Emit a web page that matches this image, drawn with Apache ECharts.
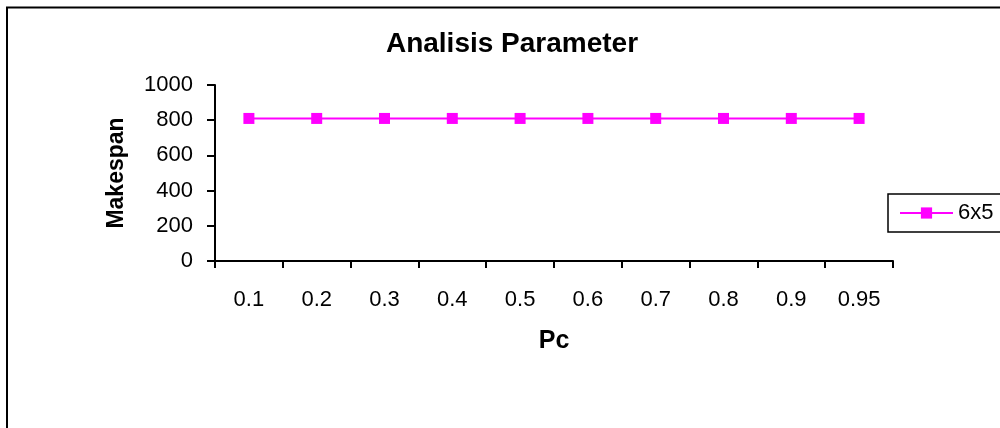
<!DOCTYPE html>
<html>
<head>
<meta charset="utf-8">
<style>
  html, body { margin: 0; padding: 0; background: #fff; }
  #chart { width: 1000px; height: 428px; }
</style>
<script src="https://cdn.jsdelivr.net/npm/echarts@6/dist/echarts.min.js"></script>
</head>
<body>
<div id="chart"></div>
<script>
// Crossover probability values and the resulting makespan
const pcLabels = ['0.1', '0.2', '0.3', '0.4', '0.5', '0.6', '0.7', '0.8', '0.9', '0.95'];
const makespan6x5 = [810, 810, 810, 810, 810, 810, 810, 810, 810, 810];
const yTicks = { min: 0, max: 1000, interval: 200 };

const font = 'Liberation Sans, Arial, sans-serif';
const chart = echarts.init(document.getElementById('chart'), null, { renderer: 'canvas' });

chart.setOption({
  backgroundColor: '#ffffff',
  animation: false,
  title: {
    text: 'Analisis Parameter',
    left: 507,
    top: 25,
    textAlign: 'center',
    textStyle: { fontFamily: font, fontSize: 28, fontWeight: 'bold', color: '#000' }
  },
  graphic: [{
    type: 'rect',
    shape: { x: 7, y: 7.5, width: 1100, height: 600 },
    style: { fill: 'none', stroke: '#000', lineWidth: 2 },
    silent: true
  }],
  legend: {
    left: 888,
    top: 194,
    orient: 'vertical',
    padding: [8, 60, 8, 11],
    borderColor: '#000',
    borderWidth: 1.5,
    itemWidth: 53,
    itemHeight: 14,
    itemGap: 0,
    textStyle: { fontFamily: font, fontSize: 22, color: '#000' },
    data: ['6x5']
  },
  grid: { left: 215, right: 107, top: 85, bottom: 167, containLabel: false },
  xAxis: {
    type: 'category',
    data: pcLabels,
    boundaryGap: true,
    name: 'Pc',
    nameLocation: 'middle',
    nameGap: 68,
    nameTextStyle: { fontFamily: font, fontSize: 25, fontWeight: 'bold', color: '#000' },
    axisLine: { lineStyle: { color: '#000', width: 2 } },
    axisTick: { show: true, length: 7, lineStyle: { color: '#000', width: 2 } },
    axisLabel: { fontFamily: font, fontSize: 22, color: '#000', margin: 28 },
    splitLine: { show: false }
  },
  yAxis: {
    type: 'value',
    min: yTicks.min,
    max: yTicks.max,
    interval: yTicks.interval,
    name: 'Makespan',
    nameLocation: 'middle',
    nameGap: 87,
    nameRotate: 90,
    nameTextStyle: { fontFamily: font, fontSize: 23, fontWeight: 'bold', color: '#000' },
    axisLine: { show: true, lineStyle: { color: '#000', width: 2 } },
    axisTick: { show: true, length: 8, lineStyle: { color: '#000', width: 2 } },
    axisLabel: { fontFamily: font, fontSize: 22, color: '#000', margin: 22, formatter: (v) => String(v) },
    splitLine: { show: false }
  },
  series: [{
    name: '6x5',
    type: 'line',
    data: makespan6x5,
    symbol: 'rect',
    symbolSize: 11,
    lineStyle: { color: '#ff00ff', width: 2 },
    itemStyle: { color: '#ff00ff' }
  }]
});
</script>
</body>
</html>
